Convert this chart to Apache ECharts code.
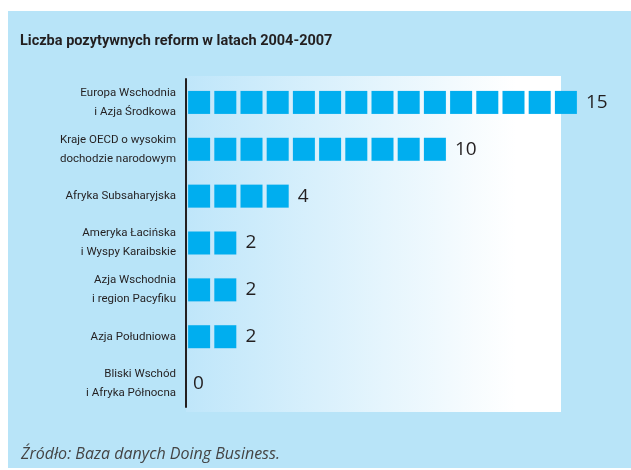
<!DOCTYPE html>
<html>
<head>
<meta charset="utf-8">
<script src="https://cdn.jsdelivr.net/npm/echarts@6/dist/echarts.min.js"></script>
<style>
  html, body { margin: 0; padding: 0; background: #fff; }
  #main { width: 631px; height: 470px; }
</style>
</head>
<body>
<div id="main"></div>
<script>
// regiony (od góry do dołu)
const regions = [
  'Europa Wschodnia\ni Azja Środkowa',
  'Kraje OECD o wysokim\ndochodzie narodowym',
  'Afryka Subsaharyjska',
  'Ameryka Łacińska\ni Wyspy Karaibskie',
  'Azja Wschodnia\ni region Pacyfiku',
  'Azja Południowa',
  'Bliski Wschód\ni Afryka Północna'
]
// liczba pozytywnych reform
const reforms = [15, 10, 4, 2, 2, 2, 0]

const titleText = 'Liczba pozytywnych reform w latach 2004-2007'
const sourceText = 'Źródło: Baza danych Doing Business.'

const narrow = "Roboto, 'Liberation Sans', sans-serif"
const regular = "'Open Sans', 'Noto Sans', sans-serif"

const myEcharts = echarts.init(document.getElementById('main'))
const option = {
  backgroundColor: '#ffffff',
  animation: false,
  title: [
    {
      text: titleText,
      left: 20,
      top: 34,
      padding: 0,
      textStyle: { fontFamily: narrow, fontSize: 14.5, fontWeight: 'bold', color: '#231f20' }
    },
    {
      text: sourceText,
      left: 21,
      top: 446,
      padding: 0,
      textStyle: { fontFamily: regular, fontSize: 16, fontStyle: 'italic', fontWeight: 'normal', color: '#444444' }
    }
  ],
  // tło: niebieska ramka + panel z gradientem
  graphic: [
    {
      type: 'rect',
      z: -10,
      shape: { x: 8, y: 11, width: 623, height: 457 },
      style: { fill: '#b8e4f8' }
    },
    {
      type: 'rect',
      z: -9,
      shape: { x: 186, y: 76, width: 375, height: 336 },
      style: {
        fill: new echarts.graphic.LinearGradient(0, 0, 1, 0, [
          { offset: 0, color: '#bfe6fa' },
          { offset: 0.88, color: '#ffffff' },
          { offset: 1, color: '#ffffff' }
        ])
      }
    }
  ],
  grid: {
    left: 186,
    top: 79,
    width: 393,
    height: 328
  },
  xAxis: {
    type: 'value',
    min: 0,
    max: 15,
    show: false
  },
  yAxis: {
    type: 'category',
    inverse: true,
    data: regions,
    axisLine: { show: true, lineStyle: { color: '#231f20', width: 2 } },
    axisTick: { show: false },
    axisLabel: {
      margin: 10,
      fontFamily: narrow,
      fontSize: 11.5,
      lineHeight: 19,
      color: '#231f20',
      align: 'right'
    }
  },
  series: [
    {
      name: 'reformy',
      type: 'pictorialBar',
      symbol: 'rect',
      symbolRepeat: true,
      symbolSize: [22, 23],
      symbolMargin: '2.1!',
      itemStyle: {
        color: '#00aeef',
        borderColor: '#6ccdf3',
        borderWidth: 1
      },
      z: 3,
      data: reforms
    },
    {
      // niewidoczny słupek tylko dla etykiet z wartościami
      name: 'etykiety',
      type: 'bar',
      barGap: '-100%',
      barWidth: 23,
      itemStyle: { color: 'rgba(0,0,0,0)' },
      label: {
        show: true,
        position: 'right',
        distance: 7,
        fontFamily: regular,
        fontSize: 19,
        color: '#231f20'
      },
      z: 2,
      data: reforms
    }
  ]
}
myEcharts.setOption(option)
</script>
</body>
</html>
